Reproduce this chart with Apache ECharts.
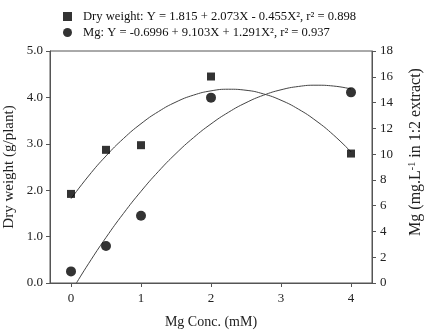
<!DOCTYPE html>
<html><head><meta charset="utf-8">
<script src="https://cdn.jsdelivr.net/npm/echarts@6/dist/echarts.min.js"></script>
<style>html,body{margin:0;padding:0;background:#fff}#c{width:424px;height:330px}</style>
</head><body><div id="c"></div>
<script>
// Observed data
const mgConc = [0, 0.5, 1, 2, 4];
const dryWeight = [1.92, 2.87, 2.97, 4.45, 2.79];
const mgContent = [0.9, 2.87, 5.22, 14.38, 14.79];
// Fitted curves
const dryFitX = [0, 0.25, 0.5, 0.75, 1, 1.25, 1.5, 1.75, 2, 2.25, 2.5, 2.75, 3, 3.25, 3.5, 3.75, 4];
const dryFitY = [1.815, 2.305, 2.738, 3.114, 3.433, 3.695, 3.901, 4.049, 4.141, 4.176, 4.154, 4.075, 3.939, 3.746, 3.497, 3.190, 2.827];
const mgFitX = [0.078, 0.25, 0.5, 0.75, 1, 1.25, 1.5, 1.75, 2, 2.25, 2.5, 2.75, 3, 3.25, 3.5, 3.75, 4];
const mgFitY = [0, 1.496, 3.529, 5.401, 7.112, 8.662, 10.05, 11.277, 12.342, 13.246, 13.989, 14.57, 14.99, 15.249, 15.346, 15.282, 15.056];
// Tick labels
const xTicks = [0, 1, 2, 3, 4];
const legendNames = [
  'Dry weight: Y = 1.815 + 2.073X - 0.455X\u00B2, r\u00B2 = 0.898',
  'Mg: Y = -0.6996 + 9.103X + 1.291X\u00B2, r\u00B2 = 0.937'
];

const FONT = '"Liberation Serif", "Times New Roman", serif';
const AX = '#555';
const zip = (a, b) => a.map((v, i) => [v, b[i]]);

const chart = echarts.init(document.getElementById('c'), null, {renderer: 'canvas'});
chart.setOption({
  animation: false,
  backgroundColor: '#fff',
  textStyle: {fontFamily: FONT},
  grid: {left: 50, right: 52, top: 51, bottom: 47, show: true, borderColor: AX, borderWidth: 1},
  legend: {
    data: [{name: legendNames[0], icon: 'rect'}, {name: legendNames[1], icon: 'circle'}],
    orient: 'vertical', left: 58, top: 5,
    itemWidth: 9, itemHeight: 9, itemGap: 3,
    textStyle: {fontFamily: FONT, fontSize: 12.6, color: '#111', padding: [0, 0, 0, 6]}
  },
  xAxis: {
    type: 'value', min: -0.3, max: 4.3,
    splitLine: {show: false},
    axisLine: {onZero: false, lineStyle: {color: AX}},
    axisTick: {customValues: xTicks, length: 4, lineStyle: {color: AX}},
    axisLabel: {customValues: xTicks, fontFamily: FONT, fontSize: 13, color: '#222', margin: 9}
  },
  yAxis: [{
    type: 'value', min: 0, max: 5, interval: 1,
    splitLine: {show: false},
    axisLine: {show: true, onZero: false, lineStyle: {color: AX}},
    axisTick: {show: true, length: 4, lineStyle: {color: AX}},
    axisLabel: {fontFamily: FONT, fontSize: 13, color: '#222', margin: 7, formatter: v => v.toFixed(1)}
  }, {
    type: 'value', min: 0, max: 18, interval: 2, position: 'right',
    splitLine: {show: false},
    axisLine: {show: true, onZero: false, lineStyle: {color: AX}},
    axisTick: {show: true, length: 4, lineStyle: {color: AX}},
    axisLabel: {fontFamily: FONT, fontSize: 13, color: '#222', margin: 8}
  }],
  graphic: [{
    type: 'text', x: 9, y: 167, rotation: Math.PI / 2,
    style: {text: 'Dry weight (g/plant)', font: '15px ' + FONT, fill: '#222', align: 'center', verticalAlign: 'middle'}
  }, {
    type: 'text', x: 416, y: 152, rotation: Math.PI / 2,
    style: {
      text: '{a|Mg (mg.L}{s|-1}{a| in 1:2 extract)}',
      align: 'center', verticalAlign: 'middle', fill: '#222',
      rich: {
        a: {fontFamily: FONT, fontSize: 16, fill: '#222', lineHeight: 18},
        s: {fontFamily: FONT, fontSize: 10, fill: '#222', verticalAlign: 'top', lineHeight: 18}
      }
    }
  }, {
    type: 'text', x: 211, y: 322,
    style: {text: 'Mg Conc. (mM)', font: '14px ' + FONT, fill: '#222', align: 'center', verticalAlign: 'middle'}
  }],
  series: [{
    type: 'line', data: zip(dryFitX, dryFitY), yAxisIndex: 0, smooth: true, showSymbol: false, silent: true,
    lineStyle: {color: '#444', width: 1}, z: 1
  }, {
    type: 'line', data: zip(mgFitX, mgFitY), yAxisIndex: 1, smooth: true, showSymbol: false, silent: true,
    lineStyle: {color: '#444', width: 1}, z: 1
  }, {
    name: legendNames[0], type: 'scatter', yAxisIndex: 0, data: zip(mgConc, dryWeight),
    symbol: 'rect', symbolSize: 8, itemStyle: {color: '#000'}, z: 3
  }, {
    name: legendNames[1], type: 'scatter', yAxisIndex: 1, data: zip(mgConc, mgContent),
    symbol: 'circle', symbolSize: 10, itemStyle: {color: '#000'}, z: 3
  }]
});
</script></body></html>
